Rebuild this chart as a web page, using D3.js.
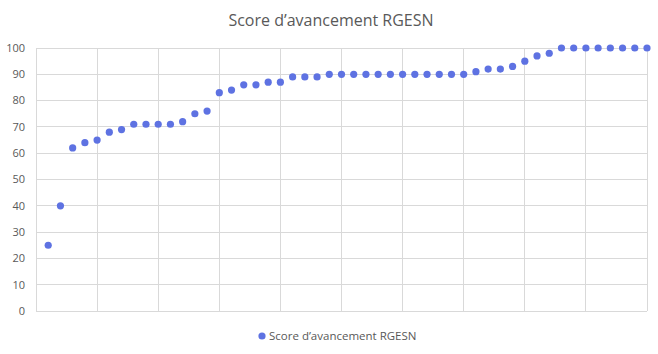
<!DOCTYPE html>
<html>
<head>
<meta charset="utf-8">
<script src="https://cdn.jsdelivr.net/npm/d3@7"></script>
<style>
  body { margin: 0; background: #fff; }
  text { font-family: "Open Sans", "Noto Sans", sans-serif; fill: #595959; }
</style>
</head>
<body>
<div id="chart"></div>
<script>
// one point per item, sorted ascending
const seriesName = 'Score d’avancement RGESN';
const ranks = d3.range(1, 51);
const scores = [
  25, 40, 62, 64, 65, 68, 69, 71, 71, 71,
  71, 72, 75, 76, 83, 84, 86, 86, 87, 87,
  89, 89, 89, 90, 90, 90, 90, 90, 90, 90,
  90, 90, 90, 90, 90, 91, 92, 92, 93, 95,
  97, 98, 100, 100, 100, 100, 100, 100, 100, 100
];
const xTicks = [0, 5, 10, 15, 20, 25, 30, 35, 40, 45, 50];
const yTicks = [0, 10, 20, 30, 40, 50, 60, 70, 80, 90, 100];

const width = 658, height = 354;
const margin = { top: 48, right: 11, bottom: 43, left: 36 };

const svg = d3.select('#chart')
  .append('svg')
  .attr('width', width)
  .attr('height', height);

const x = d3.scaleLinear()
  .domain([0, 50])
  .range([margin.left, width - margin.right]);

const y = d3.scaleLinear()
  .domain([0, 100])
  .range([height - margin.bottom, margin.top]);

// gridlines
svg.append('g')
  .selectAll('line.h')
  .data(yTicks)
  .join('line')
  .attr('x1', x(0)).attr('x2', x(50))
  .attr('y1', d => y(d)).attr('y2', d => y(d))
  .attr('stroke', '#d9d9d9')
  .attr('stroke-width', 1)
  .attr('shape-rendering', 'crispEdges');

svg.append('g')
  .selectAll('line.v')
  .data(xTicks)
  .join('line')
  .attr('x1', d => x(d)).attr('x2', d => x(d))
  .attr('y1', y(0)).attr('y2', y(100))
  .attr('stroke', '#d9d9d9')
  .attr('stroke-width', 1)
  .attr('shape-rendering', 'crispEdges');

// y labels
svg.append('g')
  .selectAll('text')
  .data(yTicks)
  .join('text')
  .attr('x', margin.left - 11)
  .attr('y', d => y(d))
  .attr('dy', '0.35em')
  .attr('text-anchor', 'end')
  .style('font-size', '11px')
  .text(d => d);

// points
svg.append('g')
  .selectAll('circle')
  .data(ranks.map((r, i) => ({ r, s: scores[i] })))
  .join('circle')
  .attr('cx', d => x(d.r))
  .attr('cy', d => y(d.s))
  .attr('r', 3.6)
  .attr('fill', '#5e72e2');

// title
svg.append('text')
  .attr('x', width / 2 + 2)
  .attr('y', 26)
  .attr('text-anchor', 'middle')
  .style('font-size', '16px')
  .text(seriesName);

// legend
const legend = svg.append('g');
legend.append('circle')
  .attr('cx', 262)
  .attr('cy', 336)
  .attr('r', 3.6)
  .attr('fill', '#5e72e2');
legend.append('text')
  .attr('x', 269)
  .attr('y', 336)
  .attr('dy', '0.35em')
  .style('font-size', '11.5px')
  .text(seriesName);
</script>
</body>
</html>
